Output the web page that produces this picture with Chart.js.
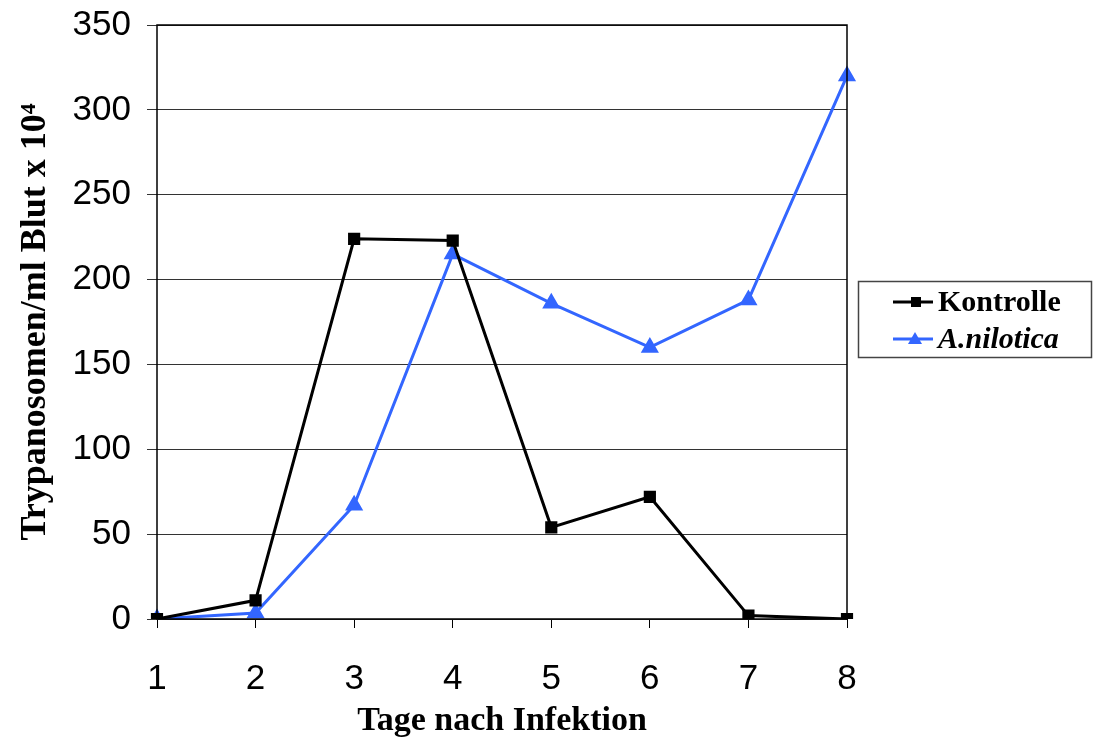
<!DOCTYPE html>
<html>
<head>
<meta charset="utf-8">
<script src="https://cdn.jsdelivr.net/npm/chart.js@4"></script>
<style>
  html, body { margin: 0; padding: 0; background: #fff; }
  #wrap { width: 1096px; height: 739px; position: relative; }
</style>
</head>
<body>
<div id="wrap"><canvas id="chart" width="1096" height="739"></canvas></div>
<script>
// days after infection
const days = ["1", "2", "3", "4", "5", "6", "7", "8"];
// trypanosomes / ml blood x 10^4
const kontrolle = [0, 11, 224, 223, 54, 72, 2, 0];
const nilotica = [0, 3.5, 67, 215, 186, 160, 188, 320];
const yTicks = [0, 50, 100, 150, 200, 250, 300, 350];

const blue = "#3366ff";

// frame around the plot area + boxed legend on the right
const framePlugin = {
  id: "frame",
  afterDraw(chart) {
    const { ctx, chartArea: a } = chart;
    ctx.save();
    ctx.strokeStyle = "#000";
    ctx.lineWidth = 1.5;
    ctx.strokeRect(a.left, a.top, a.right - a.left, a.bottom - a.top);

    // legend box
    ctx.strokeStyle = "#444";
    ctx.lineWidth = 1.5;
    ctx.strokeRect(858.5, 281.5, 233, 76);

    const items = [
      { text: "Kontrolle", color: "#000", font: "bold 30px 'Liberation Serif'", shape: "square", y: 302 },
      { text: "A.nilotica", color: blue, font: "italic bold 30px 'Liberation Serif'", shape: "tri", y: 339 },
    ];
    items.forEach((it) => {
      ctx.strokeStyle = it.color;
      ctx.fillStyle = it.color;
      ctx.lineWidth = 3;
      ctx.beginPath();
      ctx.moveTo(893, it.y);
      ctx.lineTo(933, it.y);
      ctx.stroke();
      ctx.beginPath();
      if (it.shape === "square") {
        ctx.rect(911, it.y - 5, 10, 10);
      } else {
        ctx.moveTo(915, it.y - 7);
        ctx.lineTo(922, it.y + 5);
        ctx.lineTo(908, it.y + 5);
        ctx.closePath();
      }
      ctx.fill();
      ctx.fillStyle = "#000";
      ctx.font = it.font;
      ctx.textBaseline = "middle";
      ctx.textAlign = "left";
      ctx.fillText(it.text, 938, it.y + 1);
    });
    ctx.restore();
  },
};

new Chart(document.getElementById("chart"), {
  type: "line",
  data: {
    labels: days,
    datasets: [
      {
        label: "Kontrolle",
        data: kontrolle,
        borderColor: "#000",
        backgroundColor: "#000",
        borderWidth: 3,
        pointStyle: "rect",
        pointRadius: 6.5,
        pointHoverRadius: 6.5,
        tension: 0,
      },
      {
        label: "A.nilotica",
        data: nilotica,
        borderColor: blue,
        backgroundColor: blue,
        borderWidth: 3,
        pointStyle: "triangle",
        pointRadius: 7.5,
        pointHoverRadius: 7.5,
        tension: 0,
      },
    ],
  },
  options: {
    responsive: false,
    animation: false,
    layout: { padding: { left: 0, right: 249, top: 25, bottom: 0 } },
    plugins: {
      legend: { display: false },
      tooltip: { enabled: false },
    },
    scales: {
      x: {
        type: "category",
        offset: false,
        grid: { drawOnChartArea: false, drawTicks: true, tickLength: 9, color: "#000", lineWidth: 1 },
        border: { display: false },
        ticks: { color: "#000", font: { family: "'Liberation Sans'", size: 35 }, padding: 30 },
        title: {
          display: true,
          text: "Tage nach Infektion",
          color: "#000",
          font: { family: "'Liberation Serif'", size: 34, weight: "bold", lineHeight: 1.05 },
          padding: { top: 0, bottom: 0 },
        },
        afterFit: (scale) => { scale.height = 120; },
      },
      y: {
        min: 0,
        max: 350,
        afterBuildTicks: (scale) => { scale.ticks = yTicks.map((v) => ({ value: v })); },
        grid: { color: "#333", lineWidth: 1, tickLength: 10 },
        border: { display: false },
        ticks: { color: "#000", font: { family: "'Liberation Sans'", size: 35 }, padding: 16 },
        title: {
          display: true,
          text: "Trypanosomen/ml Blut x 10⁴",
          color: "#000",
          font: { family: "'Liberation Serif'", size: 36, weight: "bold" },
          padding: { top: 14, bottom: 0 },
        },
        afterFit: (scale) => {
          scale.width = 157;
          scale.paddingTop = 0;
          scale.paddingBottom = 0;
        },
      },
    },
  },
  plugins: [framePlugin],
});
</script>
</body>
</html>
